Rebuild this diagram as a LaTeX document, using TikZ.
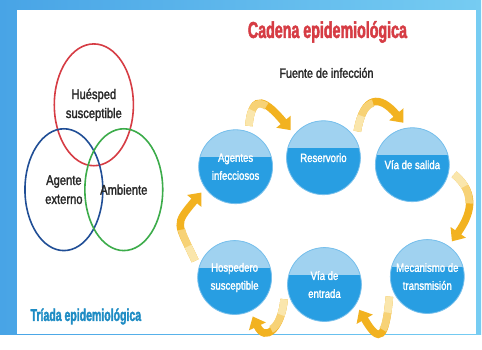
\documentclass[tikz,border=0pt]{standalone}
\usepackage{fontspec}
\setmainfont{Liberation Sans}[FakeStretch = 0.8]
\newfontfamily\medio{Liberation Sans}[FakeStretch = 0.8, FakeBold = 1.8]
\newfontfamily\titulo{Liberation Sans Bold}[FakeStretch = 0.62, FakeBold = 2]
\usepackage{xcolor}
\usetikzlibrary{calc, shapes.geometric, arrows.meta}

\definecolor{rojo}{RGB}{214,60,68}
\definecolor{azul}{RGB}{32,78,150}
\definecolor{verde}{RGB}{60,172,74}
\definecolor{texto}{RGB}{40,40,40}
\definecolor{turquesa}{RGB}{30,140,196}
\definecolor{celeste}{RGB}{160,210,240}
\definecolor{marino}{RGB}{40,158,226}
\definecolor{borde}{RGB}{120,192,236}
\definecolor{oro}{RGB}{242,178,32}
\definecolor{paja}{RGB}{247,210,118}
\definecolor{crema}{RGB}{250,230,172}
\definecolor{fondoA}{RGB}{72,164,230}
\definecolor{fondoB}{RGB}{118,204,242}

\newcommand{\arco}[1]{
	\draw[flecha] #1;
	\draw[line width = 7.5pt, draw = paja, dash pattern = on 34pt off 400pt] #1;
	\draw[line width = 7.5pt, draw = crema, dash pattern = on 16pt off 400pt] #1;
}

\begin{document}
\begin{tikzpicture}[x = 1pt, y = 1pt,
		anillo/.style = {ellipse, draw, line width = 1.6pt, minimum width = 78pt, minimum height = 122pt, inner sep = 0pt, align = center, text = texto, font = \medio\fontsize{14}{19}\selectfont},
		eslabon/.style = {circle, fill = marino, draw = borde, line width = 0.8pt, minimum size = 74pt, inner sep = 0pt, outer sep = 6pt, align = center, text = white, font = \medio\fontsize{12}{18}\selectfont,
			path picture = {\fill[celeste] ([yshift = 10pt]path picture bounding box.west) rectangle (path picture bounding box.north east);}},
		flecha/.style = {line width = 7.5pt, draw = oro, -{Triangle[width = 18pt, length = 11pt]}}
	]
	\def\ancho{482};
	\def\alto{335};

	\begin{scope}
		\useasboundingbox (0,0) rectangle (\ancho,\alto);
		\shade[left color = fondoA, right color = fondoB] (0,0) rectangle (\ancho,\alto);
		\fill[white] (17,0) rectangle (477,325);
	\end{scope}

	% triada
	\begin{scope}
		\node[anillo, draw = rojo] (huesped) at (94,230) {Huésped\\susceptible};
		\node[anillo, draw = azul] (agente) at (64,145) {Agente\\externo};
		\node[anillo, draw = verde] (ambiente) at (124,145) {Ambiente};
		\node[font = \titulo\fontsize{17}{20}\selectfont, text = turquesa] (triada) at (86,18) {Tríada epidemiológica};
	\end{scope}

	% cadena
	\begin{scope}
		\node[font = \titulo\fontsize{23}{26}\selectfont, text = rojo] (cadena) at (328,303) {Cadena epidemiológica};
		\node[font = \medio\fontsize{13.5}{16}\selectfont, text = texto] (fuente) at (327,262) {Fuente de infección};

		\node[eslabon] (agentes) at (236,168) {Agentes\\infecciosos};
		\node[eslabon] (reservorio) at (324,177) {Reservorio};
		\node[eslabon] (salida) at (413,170) {Vía de salida};
		\node[eslabon] (hospedero) at (235,57) {Hospedero\\susceptible};
		\node[eslabon] (entrada) at (325,50) {Vía de\\entrada};
		\node[eslabon] (mecanismo) at (428,58) {Mecanismo de\\transmisión};
	\end{scope}

	\begin{scope}
		\arco{(agentes.72) to[out = 85, in = 130, looseness = 2.2] (reservorio.140)}
		\arco{(reservorio.38) to[out = 80, in = 130, looseness = 2] (salida.102)}
		\arco{(salida.-13) to[out = -40, in = 55, looseness = 1.2] (mecanismo.55)}
		\arco{(mecanismo.208) to[out = -95, in = -60, looseness = 3.2] (entrada.-36)}
		\arco{(entrada.200) to[out = -95, in = -65, looseness = 2.1] (hospedero.-65)}
		\arco{(hospedero.157) to[out = 115, in = -130, looseness = 1.6] (agentes.217)}
	\end{scope}
\end{tikzpicture}
\end{document}
